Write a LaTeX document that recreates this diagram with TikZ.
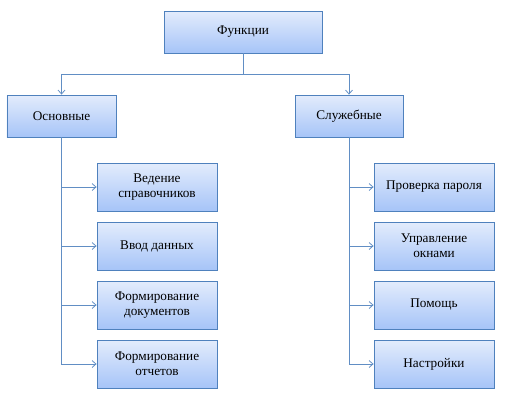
\documentclass[tikz,border=0pt]{standalone}
\usepackage{fontspec}
\setmainfont{Liberation Serif}
\newfontfamily\tnr{Liberation Serif}
\usetikzlibrary{arrows.meta,shadows}
\definecolor{edgeblue}{HTML}{4F81BD}
\definecolor{topfill}{HTML}{E3ECFC}
\definecolor{botfill}{HTML}{A6C4F8}
\tikzset{
  box/.style={draw=edgeblue, line width=0.8pt, top color=topfill, bottom color=botfill,
    minimum width=#1, align=center, font=\tnr\fontsize{13.3}{15}\selectfont,
    drop shadow={shadow xshift=1.2pt, shadow yshift=-1.2pt, fill=black!35, opacity=0.6}},
  conn/.style={draw=edgeblue!90, line width=0.8pt},
  arr/.style={conn, -{Straight Barb[length=4pt,width=7pt]}}
}
\begin{document}
\begin{tikzpicture}[x=1bp,y=-1bp]
\useasboundingbox (0,0) rectangle (513,410);
\node[box=158bp, minimum height=42bp] (f) at (243,32) {Функции};
\node[box=109bp, minimum height=42bp] (o) at (61.5,116) {Основные};
\node[box=108bp, minimum height=42bp] (s) at (349,116) {Служебные};
\node[box=120bp, minimum height=48bp] (o1) at (157,187) {Ведение\\справочников};
\node[box=120bp, minimum height=48bp] (o2) at (157,246) {Ввод данных};
\node[box=120bp, minimum height=48bp] (o3) at (157,305) {Формирование\\документов};
\node[box=120bp, minimum height=48bp] (o4) at (157,364) {Формирование\\отчетов};
\node[box=120bp, minimum height=48bp] (s1) at (434,187) {Проверка пароля};
\node[box=120bp, minimum height=48bp] (s2) at (434,246) {Управление\\окнами};
\node[box=120bp, minimum height=48bp] (s3) at (434,305) {Помощь};
\node[box=120bp, minimum height=48bp] (s4) at (434,364) {Настройки};
\coordinate (j) at (243,74);
\draw[conn] (f.south) -- (j);
\draw[arr] (j) -| (o.north);
\draw[arr] (j) -| (s.north);
\foreach \n in {o1,o2,o3,o4}{
  \draw[arr] (o.south) |- (\n.west);
}
\foreach \n in {s1,s2,s3,s4}{
  \draw[arr] (s.south) |- (\n.west);
}
\end{tikzpicture}
\end{document}
